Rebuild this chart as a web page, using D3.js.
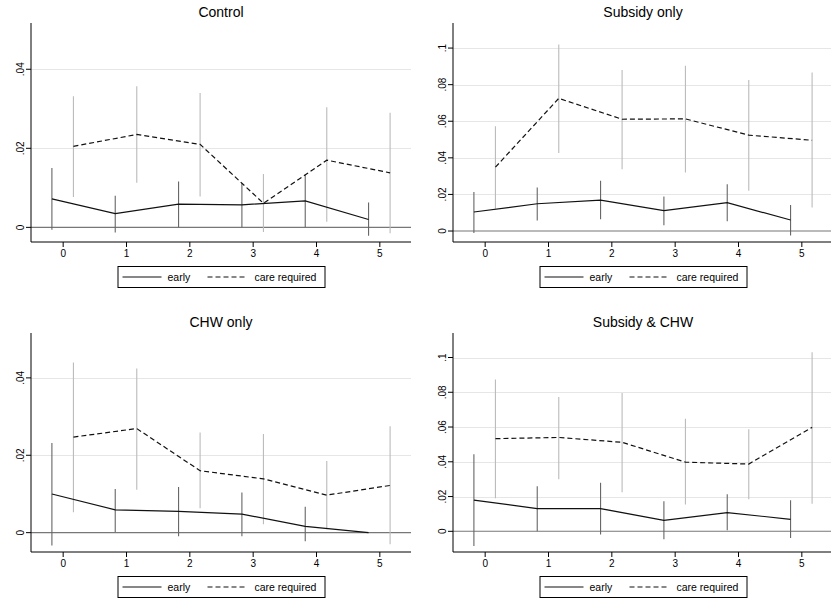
<!DOCTYPE html>
<html>
<head>
<meta charset="utf-8">
<script src="https://cdn.jsdelivr.net/npm/d3@7"></script>
<style>
  body { margin: 0; background: #fff; }
  svg text { font-family: "Liberation Sans", Arial, Helvetica, sans-serif; fill: #000; font-weight: normal; }
</style>
</head>
<body>
<div id="container"></div>
<script>
(function(){

  // data
  var titles = ["Control", "Subsidy only", "CHW only", "Subsidy & CHW"]
  var periods = [0, 1, 2, 3, 4, 5]
  var seriesNames = ["early", "care required"]

  var earlyEst = [
    [0.0072, 0.0035, 0.0059, 0.0057, 0.0067, 0.0020],
    [0.0104, 0.0149, 0.0169, 0.0111, 0.0155, 0.0060],
    [0.0100, 0.0059, 0.0055, 0.0048, 0.0016, 0.0000],
    [0.0179, 0.0131, 0.0131, 0.0063, 0.0108, 0.0069]
  ]
  var earlyLo = [
    [-0.0006, -0.0013, 0.0000, 0.0000, 0.0000, -0.0021],
    [-0.0011, 0.0058, 0.0065, 0.0031, 0.0053, -0.0024],
    [-0.0033, 0.0002, -0.0009, -0.0009, -0.0022, 0.0000],
    [-0.0085, 0.0000, -0.0019, -0.0046, 0.0006, -0.0038]
  ]
  var earlyHi = [
    [0.0150, 0.0080, 0.0116, 0.0112, 0.0134, 0.0063],
    [0.0213, 0.0238, 0.0275, 0.0189, 0.0255, 0.0142],
    [0.0232, 0.0113, 0.0118, 0.0104, 0.0067, 0.0000],
    [0.0444, 0.0260, 0.0279, 0.0173, 0.0213, 0.0179]
  ]
  var careEst = [
    [0.0205, 0.0235, 0.0210, 0.0061, 0.0170, 0.0138],
    [0.0349, 0.0725, 0.0611, 0.0613, 0.0524, 0.0496],
    [0.0247, 0.0269, 0.0160, 0.0139, 0.0097, 0.0122],
    [0.0533, 0.0540, 0.0512, 0.0398, 0.0387, 0.0598]
  ]
  var careLo = [
    [0.0077, 0.0113, 0.0078, -0.0012, 0.0014, -0.0015],
    [0.0122, 0.0427, 0.0338, 0.0320, 0.0220, 0.0129],
    [0.0053, 0.0111, 0.0063, 0.0022, 0.0009, -0.0030],
    [0.0190, 0.0300, 0.0225, 0.0154, 0.0185, 0.0158]
  ]
  var careHi = [
    [0.0332, 0.0357, 0.0340, 0.0135, 0.0304, 0.0290],
    [0.0573, 0.1020, 0.0880, 0.0904, 0.0825, 0.0867],
    [0.0440, 0.0424, 0.0259, 0.0255, 0.0185, 0.0275],
    [0.0873, 0.0773, 0.0796, 0.0648, 0.0587, 0.1030]
  ]
  var yTicksSmall = [0, 0.02, 0.04]
  var yTicksLarge = [0, 0.02, 0.04, 0.06, 0.08, 0.1]

  // layout of the 2x2 grid
  var width = 831, height = 600
  var panels = [
    { left: 31, top: 23, right: 411, bottom: 242, y0: -0.0037, y1: 0.0517, ticks: yTicksSmall },
    { left: 453, top: 23, right: 833, bottom: 242, y0: -0.0060, y1: 0.1137, ticks: yTicksLarge },
    { left: 31, top: 333, right: 411, bottom: 552, y0: -0.0050, y1: 0.0516, ticks: yTicksSmall },
    { left: 453, top: 333, right: 833, bottom: 552, y0: -0.0119, y1: 0.1141, ticks: yTicksLarge }
  ]
  var offset = 0.17

  var svg = d3.select("#container")
    .append("svg")
      .attr("width", width)
      .attr("height", height)

  var fmt = function(v){
    if (v === 0) return "0"
    return d3.format(".2~f")(v).replace(/^0/, "")
  }

  panels.forEach(function(p, k){
    var g = svg.append("g")

    var x = d3.scaleLinear().domain([-0.5, 5.5]).range([p.left, p.right])
    var y = d3.scaleLinear().domain([p.y0, p.y1]).range([p.bottom, p.top])

    // gridlines
    g.selectAll(".grid")
      .data(p.ticks.filter(function(t){ return t !== 0 }))
      .enter().append("line")
        .attr("x1", p.left).attr("x2", p.right)
        .attr("y1", function(d){ return Math.round(y(d)) + 0.5 })
        .attr("y2", function(d){ return Math.round(y(d)) + 0.5 })
        .attr("stroke", "#e6e6e6")
        .attr("stroke-width", 1)

    // zero line
    g.append("line")
      .attr("x1", p.left).attr("x2", p.right)
      .attr("y1", y(0)).attr("y2", y(0))
      .attr("stroke", "#777")
      .attr("stroke-width", 1.1)

    // CI spikes
    var spikes = function(lo, hi, dx, color){
      g.selectAll(null)
        .data(periods)
        .enter().append("line")
          .attr("x1", function(d){ return x(d + dx) })
          .attr("x2", function(d){ return x(d + dx) })
          .attr("y1", function(d, i){ return y(lo[k][i]) })
          .attr("y2", function(d, i){ return y(hi[k][i]) })
          .attr("stroke", color)
          .attr("stroke-width", 1.1)
    }
    spikes(earlyLo, earlyHi, -offset, "#666")
    spikes(careLo, careHi, offset, "#bbb")

    // lines
    var lineEarly = d3.line()
      .x(function(d){ return x(d - offset) })
      .y(function(d, i){ return y(earlyEst[k][i]) })
    var lineCare = d3.line()
      .x(function(d){ return x(d + offset) })
      .y(function(d, i){ return y(careEst[k][i]) })

    g.append("path")
      .attr("d", lineEarly(periods))
      .attr("fill", "none")
      .attr("stroke", "#111")
      .attr("stroke-width", 1.2)
    g.append("path")
      .attr("d", lineCare(periods))
      .attr("fill", "none")
      .attr("stroke", "#111")
      .attr("stroke-width", 1.2)
      .attr("stroke-dasharray", "5,3")

    // axes
    var yAxis = d3.axisLeft(y).tickValues(p.ticks).tickFormat(fmt).tickSize(5).tickPadding(4)
    var ya = g.append("g")
      .attr("transform", "translate(" + p.left + ",0)")
      .call(yAxis)
    ya.select(".domain").attr("d", "M0," + p.top + "V" + p.bottom).attr("stroke", "#000")
    ya.selectAll("text")
      .attr("transform", function(d){ return "rotate(-90," + (-10) + "," + y(d) + ")" })
      .attr("x", -10)
      .attr("y", y)
      .attr("dy", "0.35em")
      .attr("text-anchor", "middle")
      .attr("font-size", 10)
    ya.selectAll(".tick")
      .attr("transform", null)
    ya.selectAll(".tick line")
      .attr("y1", y).attr("y2", y)

    var xAxis = d3.axisBottom(x).tickValues(periods).tickFormat(d3.format("d")).tickSize(5).tickPadding(3)
    var xa = g.append("g")
      .attr("transform", "translate(0," + p.bottom + ")")
      .call(xAxis)
    xa.select(".domain").attr("d", "M" + p.left + ",0H" + p.right).attr("stroke", "#000")
    xa.selectAll("text").attr("font-size", 10)

    // title
    g.append("text")
      .attr("x", (p.left + p.right) / 2)
      .attr("y", p.top - 6)
      .attr("text-anchor", "middle")
      .attr("font-size", 14)
      .text(titles[k])

    // legend
    var lx = (p.left + p.right) / 2 - 103.5
    var ly = p.bottom + 24
    var lg = g.append("g").attr("transform", "translate(" + lx + "," + ly + ")")
    lg.append("rect")
      .attr("x", 0.5).attr("y", 0.5)
      .attr("width", 207).attr("height", 21)
      .attr("fill", "#fff")
      .attr("stroke", "#000")
    lg.selectAll(".leg")
      .data(seriesNames)
      .enter().append("line")
        .attr("x1", function(d, i){ return i === 0 ? 5 : 90 })
        .attr("x2", function(d, i){ return i === 0 ? 44 : 130 })
        .attr("y1", 11).attr("y2", 11)
        .attr("stroke", "#111")
        .attr("stroke-width", 1.1)
        .attr("stroke-dasharray", function(d, i){ return i === 0 ? null : "5,3" })
    lg.selectAll(".legtext")
      .data(seriesNames)
      .enter().append("text")
        .attr("x", function(d, i){ return i === 0 ? 50 : 137 })
        .attr("y", 15)
        .attr("font-size", 10.5)
        .text(function(d){ return d })
  })

})()
</script>
</body>
</html>
